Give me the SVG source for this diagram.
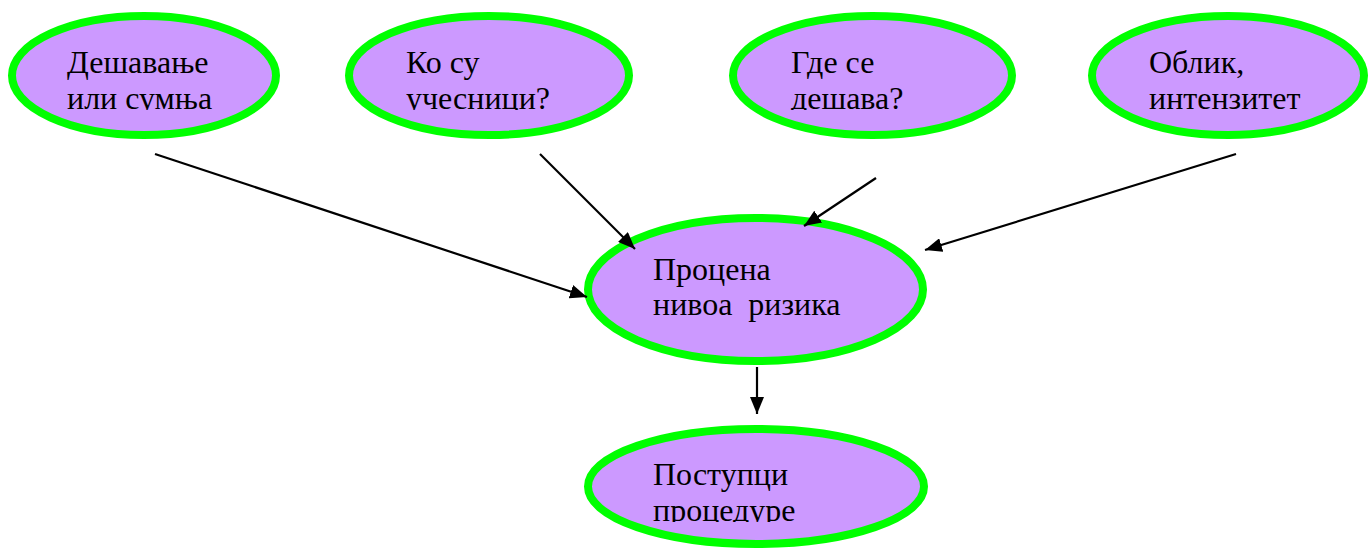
<svg xmlns="http://www.w3.org/2000/svg" width="1369" height="548" viewBox="0 0 1369 548">
<style>
.n{fill:#CC99FF;stroke:#00FF00;stroke-width:8}
.t{font-family:'Liberation Serif','DejaVu Serif',serif;font-size:32px;fill:#000}
.c line{stroke:#000;stroke-width:2.2;marker-end:url(#ah)}
</style>
<defs>
<marker id="ah" viewBox="0 0 17 14" refX="17" refY="7" markerWidth="17" markerHeight="14" markerUnits="userSpaceOnUse" orient="auto">
<path d="M0,0 L17,7 L0,14 Z" fill="#000"/>
</marker>
<clipPath id="ctop"><rect x="0" y="0" width="1369" height="110"/></clipPath>
<clipPath id="cbot"><rect x="0" y="0" width="1369" height="522"/></clipPath>
</defs>
<g id="n1">
<ellipse class="n" cx="144" cy="75.5" rx="132" ry="59.5"/>
<text class="t" clip-path="url(#ctop)"><tspan x="67" y="73">Дешавање</tspan><tspan x="67" y="109">или сумња</tspan></text>
</g>
<g id="n2">
<ellipse class="n" cx="489" cy="75.5" rx="140" ry="59.5"/>
<text class="t" clip-path="url(#ctop)"><tspan x="406" y="73">Ко су</tspan><tspan x="406" y="109">учесници?</tspan></text>
</g>
<g id="n3">
<ellipse class="n" cx="872.5" cy="75.5" rx="139.5" ry="59.5"/>
<text class="t" clip-path="url(#ctop)"><tspan x="791" y="73">Где се</tspan><tspan x="791" y="109">дешава?</tspan></text>
</g>
<g id="n4">
<ellipse class="n" cx="1228" cy="75.5" rx="136" ry="59.5"/>
<text class="t" clip-path="url(#ctop)"><tspan x="1149" y="73">Облик,</tspan><tspan x="1149" y="109">интензитет</tspan></text>
</g>
<g id="n5">
<ellipse class="n" cx="755.5" cy="289.5" rx="167.5" ry="71.5"/>
<text class="t" xml:space="preserve"><tspan x="653" y="280">Процена</tspan><tspan x="653" y="315">нивоа  ризика</tspan></text>
</g>
<g id="n6">
<ellipse class="n" cx="756" cy="486.5" rx="168" ry="57.5"/>
<text class="t" clip-path="url(#cbot)"><tspan x="653" y="485">Поступци</tspan><tspan x="653" y="521">процедуре</tspan></text>
</g>
<g id="connectors" class="c">
<line x1="155" y1="154" x2="587" y2="297"/>
<line x1="540" y1="154" x2="635" y2="249"/>
<line x1="876" y1="178" x2="804" y2="226"/>
<line x1="1236" y1="154" x2="925" y2="250"/>
<line x1="757" y1="367" x2="757" y2="414"/>
</g>
</svg>
